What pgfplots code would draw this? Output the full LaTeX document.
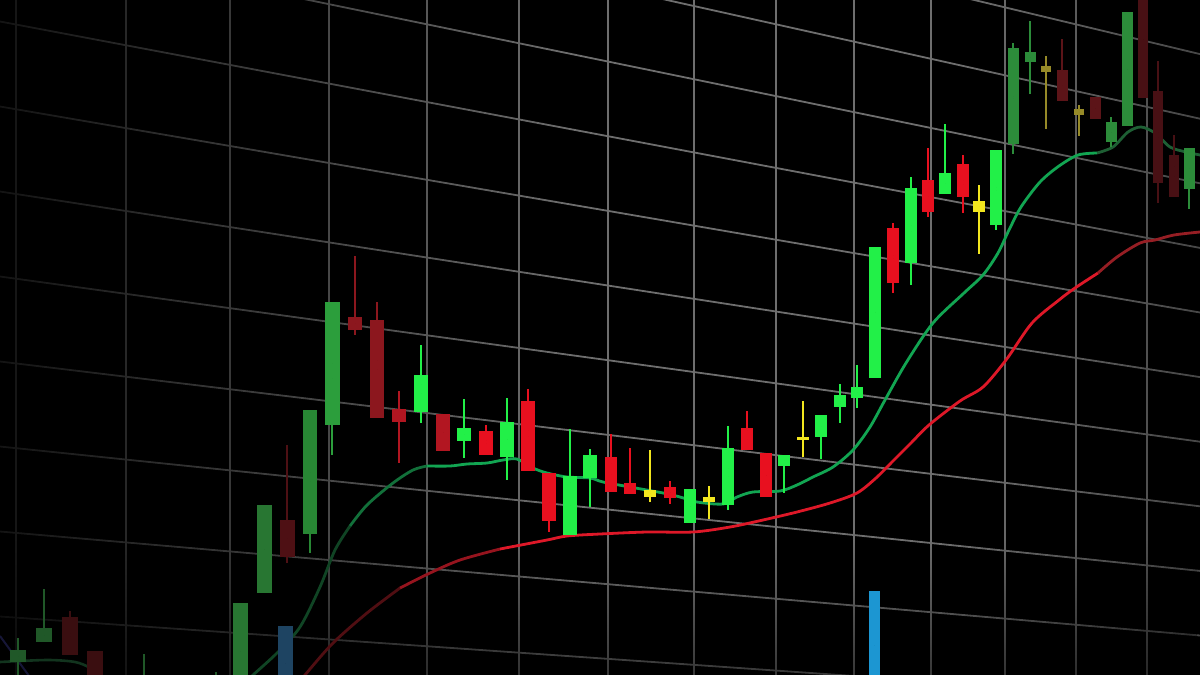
\documentclass[border=0pt]{standalone}
\usepackage{pgfplots}
\pgfplotsset{compat=1.18}
\usepackage{pgfplotstable}
\usetikzlibrary{fadings}
\tikzfading[name=fadeleft, left color=transparent!18, middle color=transparent!45, right color=transparent!100]
\tikzfading[name=faderight, left color=transparent!100, right color=transparent!65]
\tikzfading[name=fadebottom, top color=transparent!100, bottom color=transparent!45]

\definecolor{gridc}{RGB}{110,110,110}
\definecolor{gd}{RGB}{32,88,40}
\definecolor{rd}{RGB}{58,14,16}
\definecolor{gl}{RGB}{40,118,50}
\definecolor{rdb}{RGB}{78,16,20}
\definecolor{gmb}{RGB}{40,135,52}
\definecolor{gm}{RGB}{44,158,60}
\definecolor{rma}{RGB}{140,23,30}
\definecolor{rmb}{RGB}{178,22,33}
\definecolor{rb}{RGB}{232,16,31}
\definecolor{gb}{RGB}{34,240,72}
\definecolor{yb}{RGB}{242,230,30}
\definecolor{gt}{RGB}{44,140,58}
\definecolor{yt}{RGB}{150,138,40}
\definecolor{rt}{RGB}{92,20,24}
\definecolor{rtb}{RGB}{72,16,20}
\definecolor{vb}{RGB}{28,150,210}
\definecolor{vd}{RGB}{30,68,98}

% candles: x, body top, body bottom, wick top, wick bottom (image depth, downwards)
\pgfplotstableread{
x bt bb wt wb
18 650 662 638 690
44 628 642 589 642
144 690 700 654 700
216 690 700 672 700
}\Gd
\pgfplotstableread{
x bt bb wt wb
70 617 655 611 655
95 651 700 651 700
}\Rd
\pgfplotstableread{
x bt bb wt wb
240 603 700 603 700
264 505 593 505 593
}\Gl
\pgfplotstableread{
x bt bb wt wb
287 520 557 445 563
}\Rdb
\pgfplotstableread{
x bt bb wt wb
310 410 534 410 553
}\Gmb
\pgfplotstableread{
x bt bb wt wb
332 302 425 302 455
}\Gm
\pgfplotstableread{
x bt bb wt wb
355 317 330 256 335
377 320 418 302 418
}\Rma
\pgfplotstableread{
x bt bb wt wb
399 409 422 391 463
443 414 451 414 451
}\Rmb
\pgfplotstableread{
x bt bb wt wb
486 431 455 425 455
528 401 471 389 471
549 473 521 473 532
}\RbL
\pgfplotstableread{
x bt bb wt wb
421 375 412 345 423
464 428 441 399 458
507 422 457 398 480
570 476 535 429 535
590 455 478 449 507
}\GbL
\pgfplotstableread{
x bt bb wt wb
611 457 492 434 492
630 483 494 448 494
670 487 498 481 504
747 428 450 411 450
766 453 497 453 497
893 228 283 223 293
928 180 212 148 217
963 164 197 155 213
}\RbR
\pgfplotstableread{
x bt bb wt wb
690 489 523 489 523
728 448 505 426 510
784 455 466 455 493
821 415 437 415 459
840 395 407 384 423
857 387 398 365 408
875 247 378 247 378
911 188 263 177 285
945 173 194 124 194
996 150 225 150 230
}\GbR
\pgfplotstableread{
x bt bb wt wb
650 490 497 450 502
709 497 502 486 519
803 437 440 401 457
979 201 212 185 254
}\Yb
\pgfplotstableread{
x bt bb wt wb
1013 48 144 43 154
1030 52 62 21 94
1111 122 142 117 147
1127 12 126 12 126
1189 148 189 148 209
}\Gt
\pgfplotstableread{
x bt bb wt wb
1046 66 72 56 129
1079 109 115 105 136
}\Yt
\pgfplotstableread{
x bt bb wt wb
1062 70 101 39 101
1095 97 119 97 119
}\Rt
\pgfplotstableread{
x bt bb wt wb
1143 -20 98 -20 98
1158 91 183 61 203
1174 155 197 135 197
}\Rtb
\pgfplotstableread{
x bt bb wt wb
874.5 591 700 591 700
}\Vb
\pgfplotstableread{
x bt bb wt wb
285.5 626 700 626 700
}\Vd

\newcommand{\candles}[3]{%
 \addplot[only marks, mark=*, mark size=0pt, mark options={draw=none, fill=none}, forget plot,
   error bars/.cd, y dir=both, y explicit, error mark=none,
   error bar style={draw=#2, line width=2.4pt}]
   table[x=x, y expr={(\thisrow{wt}+\thisrow{wb})/2}, y error expr={(\thisrow{wb}-\thisrow{wt})/2}] {#1};
 \addplot[only marks, mark=*, mark size=0pt, mark options={draw=none, fill=none}, forget plot,
   error bars/.cd, y dir=both, y explicit, error mark=none,
   error bar style={draw=#2, line width=#3}]
   table[x=x, y expr={(\thisrow{bt}+\thisrow{bb})/2}, y error expr={(\thisrow{bb}-\thisrow{bt})/2}] {#1};
}

\begin{document}
\begin{tikzpicture}
\useasboundingbox (0,0) rectangle (1200pt,675pt);
\fill[black] (0,0) rectangle (1200pt,675pt);
\begin{axis}[at={(0,0)}, anchor=south west, scale only axis,
  width=1200pt, height=675pt, xmin=0, xmax=1200, ymin=0, ymax=675,
  y dir=reverse, hide axis]
% perspective grid
\pgfplotsinvokeforeach{16,126,230,329,427,519,608,694,776,854,931,1005,1076,1147}{
  \addplot[gridc, line width=1.8pt, forget plot] coordinates {(#1,-10) (#1,690)};
}
\addplot[gridc, line width=1.8pt, forget plot] coordinates {(0,-233.5) (1200,54.1)};
\addplot[gridc, line width=1.8pt, forget plot] coordinates {(0,-148.5) (1200,118.7)};
\addplot[gridc, line width=1.8pt, forget plot] coordinates {(0,-63.5) (1200,183.3)};
\addplot[gridc, line width=1.8pt, forget plot] coordinates {(0,21.5) (1200,247.9)};
\addplot[gridc, line width=1.8pt, forget plot] coordinates {(0,106.5) (1200,312.5)};
\addplot[gridc, line width=1.8pt, forget plot] coordinates {(0,191.5) (1200,377.1)};
\addplot[gridc, line width=1.8pt, forget plot] coordinates {(0,276.5) (1200,441.7)};
\addplot[gridc, line width=1.8pt, forget plot] coordinates {(0,361.5) (1200,506.3)};
\addplot[gridc, line width=1.8pt, forget plot] coordinates {(0,446.5) (1200,570.9)};
\addplot[gridc, line width=1.8pt, forget plot] coordinates {(0,531.5) (1200,635.5)};
\addplot[gridc, line width=1.8pt, forget plot] coordinates {(0,616.5) (1200,700.1)};
% lighting: darker left side, right edge and bottom
\fill[black, path fading=fadeleft] (axis cs:0,-10) rectangle (axis cs:570,690);
\fill[black, path fading=faderight] (axis cs:960,-10) rectangle (axis cs:1200,690);
\fill[black, path fading=fadebottom] (axis cs:0,540) rectangle (axis cs:1200,690);

% moving averages
\addplot[color={rgb,255:red,22;green,22;blue,55}, line width=2pt, forget plot] coordinates {(0,636) (32,680)};
\addplot[color={rgb,255:red,18;green,52;blue,30}, line width=2.6pt, smooth, forget plot] coordinates {(0,662) (20,661) (50,660) (75,662) (90,668) (102,680)};
\addplot[color={rgb,255:red,16;green,68;blue,36}, line width=2.8pt, smooth, forget plot] coordinates {(248,680) (253,675) (277,653) (300,627) (320,587) (335,550) (350,526)};
\addplot[color={rgb,255:red,18;green,112;blue,58}, line width=2.8pt, smooth, forget plot] coordinates {(350,526) (367,505) (393,483) (413,470) (427,466)};
\addplot[color={rgb,255:red,18;green,165;blue,82}, line width=2.8pt, smooth, forget plot] coordinates {(427,466) (450,466) (467,464) (487,463) (503,460) (517,459) (533,468) (547,473) (567,477) (590,478) (603,482) (630,487) (663,493) (680,497) (697,502) (723,504) (737,497) (753,492) (780,491) (797,485) (813,477) (833,467) (853,450) (870,427) (885,400) (906,363) (933,323) (964,293) (983,275) (998,253) (1009,230) (1021,207) (1040,182) (1059,166) (1078,155) (1097,153)};
\addplot[color={rgb,255:red,30;green,95;blue,52}, line width=2.8pt, smooth, forget plot] coordinates {(1097,153) (1113,147) (1128,132) (1141,127) (1155,133) (1170,147) (1186,152) (1200,155)};
\addplot[color={rgb,255:red,80;green,14;blue,18}, line width=2.8pt, smooth, forget plot] coordinates {(300,682) (305,675) (333,643) (367,613) (400,588)};
\addplot[color={rgb,255:red,150;green,20;blue,30}, line width=2.8pt, smooth, forget plot] coordinates {(400,588) (430,573) (460,560) (500,549)};
\addplot[color={rgb,255:red,222;green,24;blue,40}, line width=2.8pt, smooth, forget plot] coordinates {(500,549) (547,540) (567,536) (600,534) (647,532) (693,532) (730,527) (763,520) (797,512) (830,503) (857,493) (876,478) (891,463) (910,444) (929,425) (960,401) (983,387) (1006,360) (1032,323) (1059,300) (1075,288) (1098,273)};
\addplot[color={rgb,255:red,150;green,30;blue,36}, line width=2.8pt, smooth, forget plot] coordinates {(1098,273) (1117,257) (1140,243) (1155,240) (1174,235) (1200,232)};

% volume bars
\candles{\Vd}{vd}{15pt}
\candles{\Vb}{vb}{11pt}
% candles
\candles{\Gd}{gd}{15.5pt}
\candles{\Rd}{rd}{16pt}
\candles{\Gl}{gl}{15pt}
\candles{\Rdb}{rdb}{15pt}
\candles{\Gmb}{gmb}{14pt}
\candles{\Gm}{gm}{15pt}
\candles{\Rma}{rma}{14pt}
\candles{\Rmb}{rmb}{14pt}
\candles{\RbL}{rb}{13.5pt}
\candles{\GbL}{gb}{13.5pt}
\candles{\RbR}{rb}{12.5pt}
\candles{\GbR}{gb}{12.5pt}
\candles{\Yb}{yb}{12.5pt}
\candles{\Gt}{gt}{11pt}
\candles{\Yt}{yt}{10.5pt}
\candles{\Rt}{rt}{11pt}
\candles{\Rtb}{rtb}{10pt}
\end{axis}
\end{tikzpicture}
\end{document}
